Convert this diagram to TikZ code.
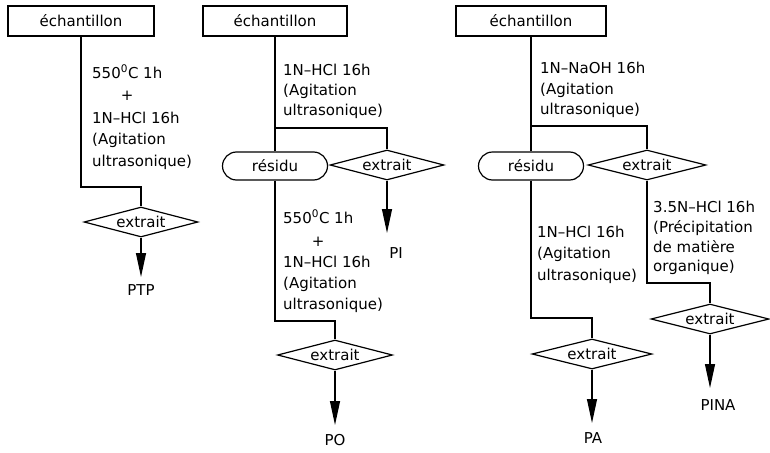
\documentclass[tikz,border=0pt]{standalone}
\usepackage{fontspec}
\setmainfont{DejaVu Sans}
\usetikzlibrary{shapes.geometric,arrows.meta}
\newcommand\plusunder[1]{\setbox0\hbox{#1}\hbox to \wd0{\hss+\hss}}
\begin{document}
\begin{tikzpicture}[x=1pt,y=-1pt,
  every node/.style={font=\fontsize{15}{18}\selectfont},
  line/.style={line width=1.2pt},
  samplebox/.style={draw,line width=1.2pt,minimum height=30pt,inner sep=0pt},
  resbox/.style={draw,line width=1.2pt,rounded corners=14pt,minimum width=105pt,minimum height=28pt,inner sep=0pt},
  extbox/.style={draw,diamond,aspect=3.8,line width=1.2pt,inner sep=0pt,minimum height=30pt},
  lbl/.style={anchor=base west,inner sep=0pt},
  prod/.style={inner sep=0pt},
  flow/.style={line width=1.2pt,-{Triangle[length=24pt,width=10pt]}}
]
\useasboundingbox (0,0) rectangle (770,452);

% ---------- column 1 ----------
\node[samplebox,minimum width=146pt] (b1) at (81,21) {échantillon};
\node[extbox,minimum width=114pt] (d1) at (141,222) {extrait};
\coordinate (k1) at (0,187);
\draw[line] (b1.south) -- (b1.south |- k1) -| (d1.north);
\coordinate (e1) at (141,277);
\draw[flow] (d1.south) -- (e1);
\node[prod] (p1) at (141,290) {PTP};
\node[lbl] (t1a) at (92,78) {550\textsuperscript{0}C 1h};
\node[lbl] (t1b) at (92,100) {\plusunder{550\textsuperscript{0}C 1h}};
\node[lbl] (t1c) at (92,123) {1N--HCl 16h};
\node[lbl] (t1d) at (92,144) {(Agitation};
\node[lbl] (t1e) at (92,166) {ultrasonique)};

% ---------- column 2 ----------
\node[samplebox,minimum width=144pt] (b2) at (275,21) {échantillon};
\node[resbox] (r2) at (275,166) {résidu};
\node[extbox,minimum width=114pt] (d2) at (387,165) {extrait};
\coordinate (k2) at (0,128);
\draw[line] (b2.south) -- (r2.north);
\draw[line] (b2.south |- k2) -| (d2.north);
\coordinate (e2) at (387,233);
\draw[flow] (d2.south) -- (e2);
\node[prod] (p2) at (396,253) {PI};
\node[lbl] (t2a) at (283,75) {1N--HCl 16h};
\node[lbl] (t2b) at (283,95) {(Agitation};
\node[lbl] (t2c) at (283,115) {ultrasonique)};

\node[extbox,minimum width=115pt] (d3) at (335,355) {extrait};
\coordinate (k3) at (0,321);
\draw[line] (r2.south) -- (r2.south |- k3) -| (d3.north);
\coordinate (e3) at (335,425);
\draw[flow] (d3.south) -- (e3);
\node[prod] (p3) at (335,440) {PO};
\node[lbl] (t3a) at (283,223) {550\textsuperscript{0}C 1h};
\node[lbl] (t3b) at (283,246) {\plusunder{550\textsuperscript{0}C 1h}};
\node[lbl] (t3c) at (283,267) {1N--HCl 16h};
\node[lbl] (t3d) at (283,288) {(Agitation};
\node[lbl] (t3e) at (283,309) {ultrasonique)};

% ---------- column 3 ----------
\node[samplebox,minimum width=150pt] (b4) at (531,21) {échantillon};
\node[resbox] (r4) at (531,166) {résidu};
\node[extbox,minimum width=118pt] (d4) at (647,165) {extrait};
\coordinate (k4) at (0,126);
\draw[line] (b4.south) -- (r4.north);
\draw[line] (b4.south |- k4) -| (d4.north);
\node[lbl] (t4a) at (540,74) {1N--NaOH 16h};
\node[lbl] (t4b) at (540,94) {(Agitation};
\node[lbl] (t4c) at (540,114) {ultrasonique)};

\node[extbox,minimum width=120pt] (d5) at (592,354) {extrait};
\coordinate (k5) at (0,318);
\draw[line] (r4.south) -- (r4.south |- k5) -| (d5.north);
\coordinate (e5) at (592,423);
\draw[flow] (d5.south) -- (e5);
\node[prod] (p5) at (593,438) {PA};
\node[lbl] (t5a) at (537,237) {1N--HCl 16h};
\node[lbl] (t5b) at (537,258) {(Agitation};
\node[lbl] (t5c) at (537,280) {ultrasonique)};

\node[extbox,minimum width=118pt] (d6) at (710,319) {extrait};
\coordinate (k6) at (0,283);
\draw[line] (d4.south) -- (d4.south |- k6) -| (d6.north);
\coordinate (e6) at (710,388);
\draw[flow] (d6.south) -- (e6);
\node[prod] (p6) at (718,405) {PINA};
\node[lbl] (t6a) at (653,212) {3.5N--HCl 16h};
\node[lbl] (t6b) at (653,232) {(Précipitation};
\node[lbl] (t6c) at (653,252) {de matière};
\node[lbl] (t6d) at (653,271) {organique)};
\end{tikzpicture}
\end{document}
